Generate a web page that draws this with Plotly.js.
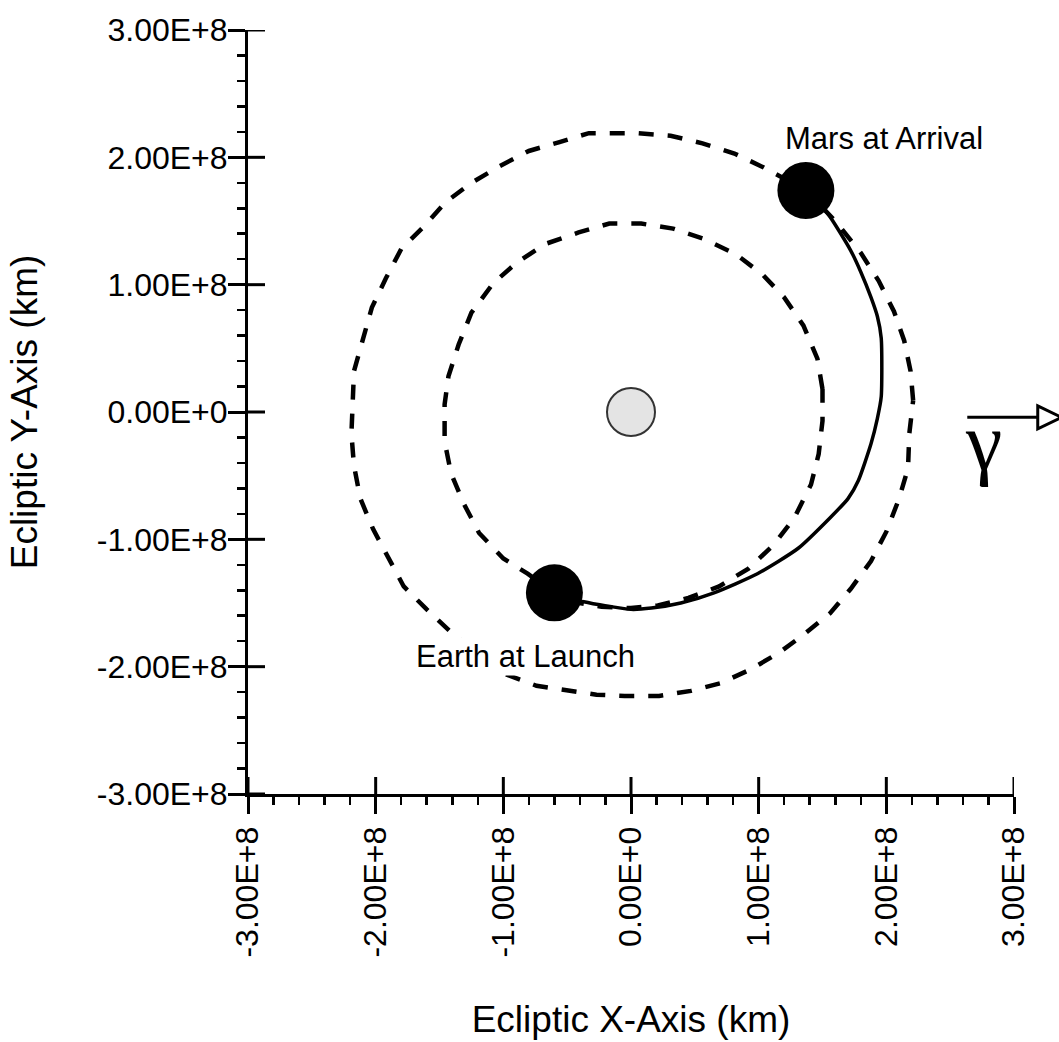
<!DOCTYPE html>
<html>
<head>
<meta charset="utf-8">
<script src="https://cdn.plot.ly/plotly-3.0.1.min.js"></script>
<style>html,body{margin:0;padding:0;background:#fff;}#chart{width:1059px;height:1042px;}</style>
</head>
<body>
<div id="chart"></div>
<script>
// Mars orbit (outer dashed), km
const marsOrbitX = [2.21e8, 2.19e8, 2.14e8, 2.06e8, 1.94e8, 1.80e8, 1.60e8, 1.37e8, 1.04e8, 0.81e8, 0.56e8, 0.31e8, 0.05e8, -0.33e8, -0.56e8, -0.80e8, -1.03e8, -1.25e8, -1.45e8, -1.62e8, -1.80e8, -1.92e8, -2.03e8, -2.10e8, -2.17e8, -2.18e8, -2.19e8, -2.17e8, -2.12e8, -2.02e8, -1.90e8, -1.78e8, -1.60e8, -1.42e8, -1.17e8, -0.98e8, -0.74e8, -0.52e8, -0.27e8, -0.05e8, 0.22e8, 0.47e8, 0.70e8, 0.94e8, 1.16e8, 1.35e8, 1.56e8, 1.72e8, 1.88e8, 2.00e8, 2.10e8, 2.17e8, 2.18e8, 2.21e8];
const marsOrbitY = [0.09e8, 0.32e8, 0.56e8, 0.79e8, 1.03e8, 1.25e8, 1.50e8, 1.74e8, 1.92e8, 2.03e8, 2.11e8, 2.17e8, 2.19e8, 2.19e8, 2.12e8, 2.05e8, 1.93e8, 1.80e8, 1.65e8, 1.46e8, 1.28e8, 1.05e8, 0.82e8, 0.57e8, 0.32e8, 0.07e8, -0.17e8, -0.42e8, -0.68e8, -0.92e8, -1.15e8, -1.37e8, -1.55e8, -1.72e8, -1.93e8, -2.06e8, -2.15e8, -2.18e8, -2.22e8, -2.23e8, -2.23e8, -2.19e8, -2.13e8, -2.02e8, -1.89e8, -1.75e8, -1.58e8, -1.39e8, -1.17e8, -0.94e8, -0.68e8, -0.44e8, -0.17e8, 0.09e8];

// Earth orbit (inner dashed), km
const earthOrbitX = [1.50e8, 1.46e8, 1.35e8, 1.20e8, 1.03e8, 0.82e8, 0.57e8, 0.33e8, 0.08e8, -0.17e8, -0.41e8, -0.67e8, -0.90e8, -1.08e8, -1.25e8, -1.35e8, -1.43e8, -1.46e8, -1.46e8, -1.41e8, -1.31e8, -1.19e8, -1.00e8, -0.81e8, -0.60e8, -0.40e8, -0.23e8, 0.00e8, 0.21e8, 0.45e8, 0.69e8, 0.92e8, 1.12e8, 1.28e8, 1.41e8, 1.47e8, 1.50e8, 1.50e8];
const earthOrbitY = [0.18e8, 0.42e8, 0.68e8, 0.90e8, 1.08e8, 1.24e8, 1.36e8, 1.44e8, 1.48e8, 1.48e8, 1.41e8, 1.32e8, 1.17e8, 1.01e8, 0.78e8, 0.53e8, 0.28e8, 0.06e8, -0.23e8, -0.48e8, -0.72e8, -0.95e8, -1.15e8, -1.27e8, -1.42e8, -1.50e8, -1.53e8, -1.54e8, -1.52e8, -1.46e8, -1.37e8, -1.23e8, -1.04e8, -0.83e8, -0.57e8, -0.33e8, -0.07e8, 0.18e8];

// Transfer trajectory (solid), km
const transferX = [-0.60e8, -0.37e8, 0.00e8, 0.16e8, 0.39e8, 0.65e8, 0.99e8, 1.31e8, 1.56e8, 1.70e8, 1.78e8, 1.88e8, 1.93e8, 1.96e8, 1.96e8, 1.93e8, 1.88e8, 1.80e8, 1.72e8, 1.54e8, 1.37e8];
const transferY = [-1.42e8, -1.49e8, -1.55e8, -1.54e8, -1.50e8, -1.42e8, -1.27e8, -1.07e8, -0.83e8, -0.68e8, -0.54e8, -0.25e8, -0.05e8, 0.12e8, 0.58e8, 0.75e8, 0.90e8, 1.10e8, 1.27e8, 1.56e8, 1.74e8];

// Bodies
const sunX = [0], sunY = [0];
const earthX = [-0.60e8], earthY = [-1.42e8];
const marsX = [1.37e8], marsY = [1.74e8];

// Labels
const earthLabel = 'Earth at Launch';
const marsLabel = 'Mars at Arrival';
const earthLabelPos = [-0.83e8, -1.92e8];
const marsLabelPos = [1.98e8, 2.15e8];

// Axes
const tickVals = [-3e8, -2e8, -1e8, 0, 1e8, 2e8, 3e8];
const tickText = ['-3.00E+8', '-2.00E+8', '-1.00E+8', '0.00E+0', '1.00E+8', '2.00E+8', '3.00E+8'];
const axisRange = [-3e8, 3e8];
const xTitle = 'Ecliptic X-Axis (km)';
const yTitle = 'Ecliptic Y-Axis (km)';

const FONT = 'Liberation Sans, Arial, Helvetica, sans-serif';

const traces = [
  {x: marsOrbitX, y: marsOrbitY, mode: 'lines', line: {color: '#000', width: 4.5, dash: '15px,14px'}, hoverinfo: 'skip'},
  {x: earthOrbitX, y: earthOrbitY, mode: 'lines', line: {color: '#000', width: 4.5, dash: '15px,14px'}, hoverinfo: 'skip'},
  {x: transferX, y: transferY, mode: 'lines', line: {color: '#000', width: 3.5, shape: 'spline', smoothing: 0.6}, hoverinfo: 'skip'},
  {x: sunX, y: sunY, mode: 'markers', marker: {size: 48, color: '#e4e4e4', line: {color: '#333', width: 2}}, hoverinfo: 'skip'},
  {x: earthX, y: earthY, mode: 'markers', marker: {size: 57, color: '#000'}, hoverinfo: 'skip'},
  {x: marsX, y: marsY, mode: 'markers', marker: {size: 57, color: '#000'}, hoverinfo: 'skip'}
];

const baseAxis = {
  range: axisRange, tickmode: 'array', tickvals: tickVals, ticktext: tickText,
  showgrid: false, zeroline: false, showline: true, linecolor: '#000', linewidth: 3,
  ticks: 'outside', ticklen: 17, tickwidth: 3, tickcolor: '#000',
  tickfont: {family: FONT, size: 32, color: '#000'},
  minor: {tickmode: 'linear', tick0: 0, dtick: 2e7, ticks: 'outside', ticklen: 8, tickwidth: 2.5, tickcolor: '#000', showgrid: false},
  fixedrange: true
};

// inner halves of the major ticks (major ticks cross the axis line)
const innerTicks = [];
tickVals.forEach(function (v) {
  innerTicks.push({type: 'line', xref: 'x', yref: 'y', x0: v, x1: v, ysizemode: 'pixel', yanchor: axisRange[0], y0: 0, y1: 17, line: {color: '#000', width: 3}});
  innerTicks.push({type: 'line', xref: 'x', yref: 'y', y0: v, y1: v, xsizemode: 'pixel', xanchor: axisRange[0], x0: 0, x1: 17, line: {color: '#000', width: 3}});
});

const layout = {
  width: 1059, height: 1042,
  margin: {l: 248, r: 45, t: 30, b: 248},
  paper_bgcolor: '#fff', plot_bgcolor: '#fff',
  showlegend: false, hovermode: false,
  font: {family: FONT, color: '#000'},
  xaxis: Object.assign({}, baseAxis, {tickangle: -90, title: {text: xTitle, font: {family: FONT, size: 37, color: '#000'}, standoff: 50}}),
  yaxis: Object.assign({}, baseAxis, {ticklabelstandoff: -6, title: {text: yTitle, font: {family: FONT, size: 37, color: '#000'}, standoff: 48}}),
  annotations: [
    {x: earthLabelPos[0], y: earthLabelPos[1], xref: 'x', yref: 'y', text: earthLabel, showarrow: false, bgcolor: '#fff', font: {family: FONT, size: 31, color: '#000'}},
    {x: marsLabelPos[0], y: marsLabelPos[1], xref: 'x', yref: 'y', text: marsLabel, showarrow: false, font: {family: FONT, size: 31, color: '#000'}},
    {x: 0.987, y: 0.461, xref: 'paper', yref: 'paper', text: 'γ', showarrow: false, font: {family: 'Liberation Serif, Times New Roman, serif', size: 82, color: '#000'}}
  ],
  shapes: innerTicks.concat([
    {type: 'line', xref: 'paper', yref: 'paper', x0: 0.939, x1: 1.033, y0: 0.493, y1: 0.493, line: {color: '#000', width: 3}},
    {type: 'path', xref: 'paper', yref: 'paper', path: 'M 1.031 0.508 L 1.062 0.493 L 1.031 0.478 Z', line: {color: '#000', width: 3}, fillcolor: '#fff'}
  ])
};

Plotly.newPlot('chart', traces, layout, {staticPlot: true, displayModeBar: false});
</script>
</body>
</html>
